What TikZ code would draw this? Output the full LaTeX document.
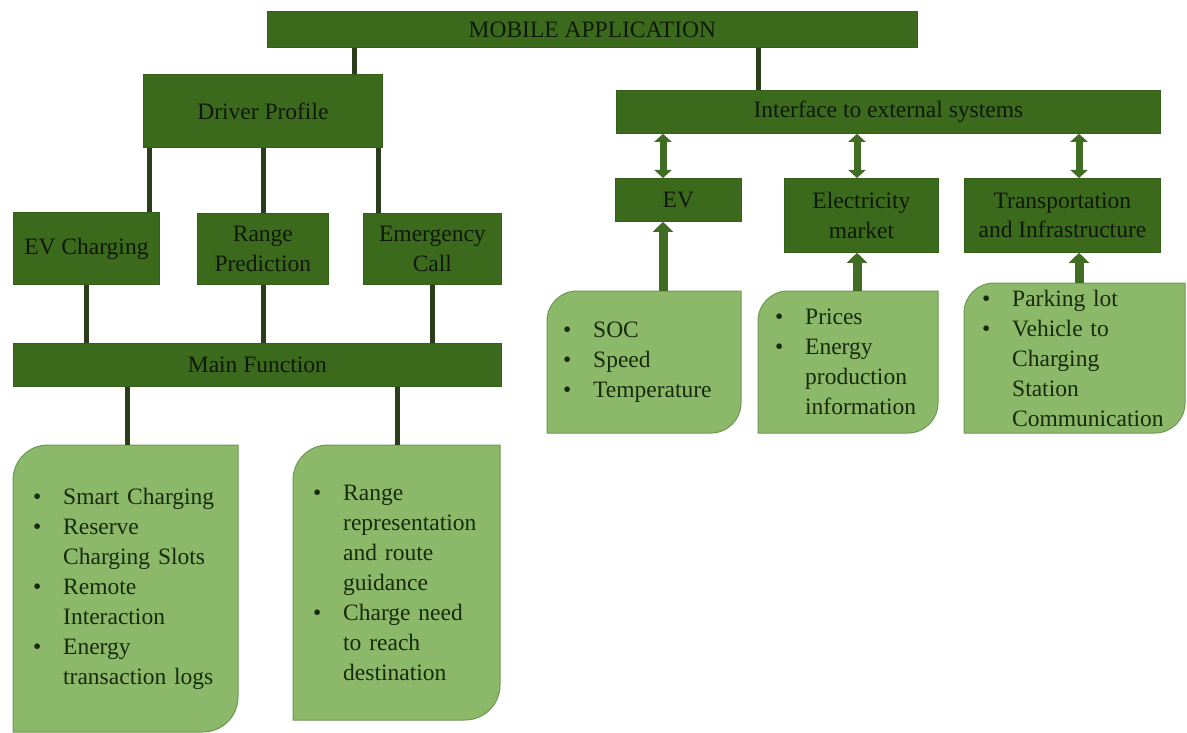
\documentclass[tikz,border=0pt]{standalone}
\usepackage{fontspec}
\setmainfont{Liberation Serif}
\usetikzlibrary{arrows.meta}
\definecolor{dkfill}{HTML}{3C6A1D}
\definecolor{dkedge}{HTML}{34601A}
\definecolor{dktext}{HTML}{0F1808}
\definecolor{ltfill}{HTML}{8CB86A}
\definecolor{ltedge}{HTML}{6D9752}
\definecolor{lttext}{HTML}{172A0C}
\definecolor{linkc}{HTML}{2B3D1B}
\definecolor{arrc}{HTML}{416C23}
\newcommand\lbul{\makebox[30bp][l]{•}}
\newcommand\lind{\hspace*{30bp}}
\newcommand\vlink[4][link]{\path (#4,0) coordinate (tmpx); \draw[#1] (#2.south -| tmpx) -- (#3.north -| tmpx);}
\newcommand\uplink[3]{\path (#3,0) coordinate (tmpx); \draw[uparr] (#1.north -| tmpx) -- (#2.south -| tmpx);}
\newcommand\leafshape[5]{\filldraw[leaf] ({#1},{-(#2)-(#5)}) arc[start angle=180,end angle=90,radius=#5] -- ({#3},{-(#2)}) -- ({#3},{-(#4)+(#5)}) arc[start angle=0,end angle=-90,radius=#5] -- ({#1},{-(#4)}) -- cycle;}
\tikzset{
  dbox/.style={rectangle, fill=dkfill, draw=dkedge, line width=0.8bp, inner sep=0pt, align=center, text=dktext, font=\fontsize{23.5bp}{29.5bp}\selectfont, anchor=north west},
  ltext/.style={rectangle, inner ysep=0pt, align=left, text=lttext, font=\fontsize{23.5bp}{30bp}\selectfont, anchor=north west},
  leaf/.style={fill=ltfill, draw=ltedge, line width=1bp},
  link/.style={draw=linkc, line width=5bp},
  dbl/.style={draw=arrc, line width=7bp, {Triangle[width=17bp,length=8bp]}-{Triangle[width=17bp,length=8bp]}},
  uparr/.style={draw=arrc, line width=9bp, -{Triangle[width=20bp,length=10bp]}},
}
\begin{document}
\begin{tikzpicture}[x=1bp,y=1bp]
\fill[white] (0,0) rectangle (1187,-733);
\useasboundingbox (0,0) rectangle (1187,-733);

% leaf shapes (light green lists)
\leafshape{13}{445}{238}{732}{35}
\leafshape{293}{445}{500}{720}{35}
\leafshape{547}{291}{741}{433}{30}
\leafshape{758}{291}{938}{433}{30}
\leafshape{964}{283}{1185}{433}{30}

\node[ltext, minimum width=225bp, minimum height=287bp, inner xsep=20bp, text width=185bp] (l1) at (13,-445)
 {\lbul Smart Charging\\ \lbul Reserve\\ \lind Charging Slots\\ \lbul Remote\\ \lind Interaction\\ \lbul Energy\\ \lind transaction logs};
\node[ltext, minimum width=207bp, minimum height=275bp, inner xsep=20bp, text width=167bp] (l2) at (293,-445)
 {\lbul Range\\ \lind representation\\ \lind and route\\ \lind guidance\\ \lbul Charge need\\ \lind to reach\\ \lind destination};
\node[ltext, minimum width=194bp, minimum height=142bp, inner xsep=16bp, text width=162bp] (l3) at (547,-291)
 {\lbul SOC\\ \lbul Speed\\ \lbul Temperature};
\node[ltext, minimum width=180bp, minimum height=142bp, inner xsep=17bp, text width=146bp] (l4) at (758,-291)
 {\lbul Prices\\ \lbul Energy\\ \lind production\\ \lind information};
\node[ltext, minimum width=221bp, minimum height=150bp, inner xsep=18bp, text width=185bp] (l5) at (964,-283)
 {\lbul Parking lot\\ \lbul Vehicle to\\ \lind Charging\\ \lind Station\\ \lind Communication};

% dark boxes
\node[dbox, minimum width=650bp, minimum height=36bp] (mob) at (267,-11) {MOBILE APPLICATION};
\node[dbox, minimum width=239bp, minimum height=73bp] (dp) at (143,-74) {Driver Profile};
\node[dbox, minimum width=146bp, minimum height=72bp] (evc) at (13,-212) {EV Charging};
\node[dbox, minimum width=131bp, minimum height=71bp] (rp) at (197,-213) {Range\\Prediction};
\node[dbox, minimum width=138bp, minimum height=71bp] (ec) at (363,-213) {Emergency\\Call};
\node[dbox, minimum width=488bp, minimum height=43bp] (mf) at (13,-343) {Main Function};
\node[dbox, minimum width=544bp, minimum height=43bp] (ifc) at (616,-90) {Interface to external systems};
\node[dbox, minimum width=126bp, minimum height=43bp] (ev) at (615,-178) {EV};
\node[dbox, minimum width=154bp, minimum height=74bp] (em) at (784,-178) {Electricity\\market};
\node[dbox, minimum width=196bp, minimum height=74bp] (ti) at (964,-178) {Transportation\\and Infrastructure};

% connectors
\vlink{mob}{dp}{354}
\vlink{mob}{ifc}{758}
\vlink{dp}{evc}{149}
\vlink{dp}{rp}{263}
\vlink{dp}{ec}{378}
\vlink{evc}{mf}{86}
\vlink{rp}{mf}{263}
\vlink{ec}{mf}{432}
\vlink{mf}{l1}{127}
\vlink{mf}{l2}{397}
\vlink[dbl]{ifc}{ev}{663}
\vlink[dbl]{ifc}{em}{857}
\vlink[dbl]{ifc}{ti}{1079}
\uplink{l3}{ev}{663}
\uplink{l4}{em}{857}
\uplink{l5}{ti}{1079}
\end{tikzpicture}
\end{document}
